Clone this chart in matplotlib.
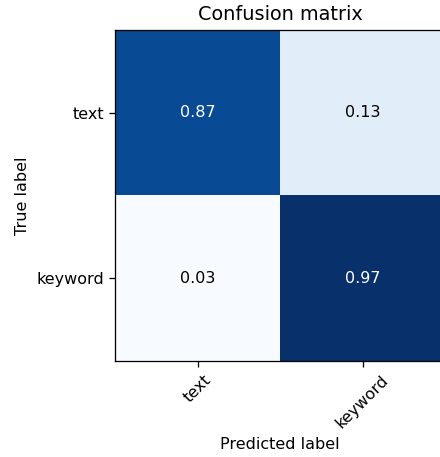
import numpy as np
import matplotlib
matplotlib.use("Agg")
import matplotlib.pyplot as plt

# Normalized confusion matrix
classes = ["text", "keyword"]
cm = np.array([[0.87, 0.13],
               [0.03, 0.97]])

DPI = 115.2
fig = plt.figure(figsize=(440 / DPI, 457 / DPI), dpi=DPI)
ax = fig.add_axes([115 / 440, (457 - 361) / 457, 330 / 440, 331 / 457])

ax.imshow(cm, interpolation="nearest", cmap=plt.cm.Blues, aspect="auto")
ax.set_title("Confusion matrix", fontsize=12)

ticks = np.arange(len(classes))
ax.set_xticks(ticks)
ax.set_xticklabels(classes, rotation=45)
ax.set_yticks(ticks)
ax.set_yticklabels(classes)

thresh = cm.max() / 2.0
for i in range(cm.shape[0]):
    for j in range(cm.shape[1]):
        ax.text(j, i, f"{cm[i, j]:.2f}",
                ha="center", va="center",
                color="white" if cm[i, j] > thresh else "black")

ax.set_ylabel("True label")
ax.set_xlabel("Predicted label")

fig.savefig("out.png", dpi=DPI)
